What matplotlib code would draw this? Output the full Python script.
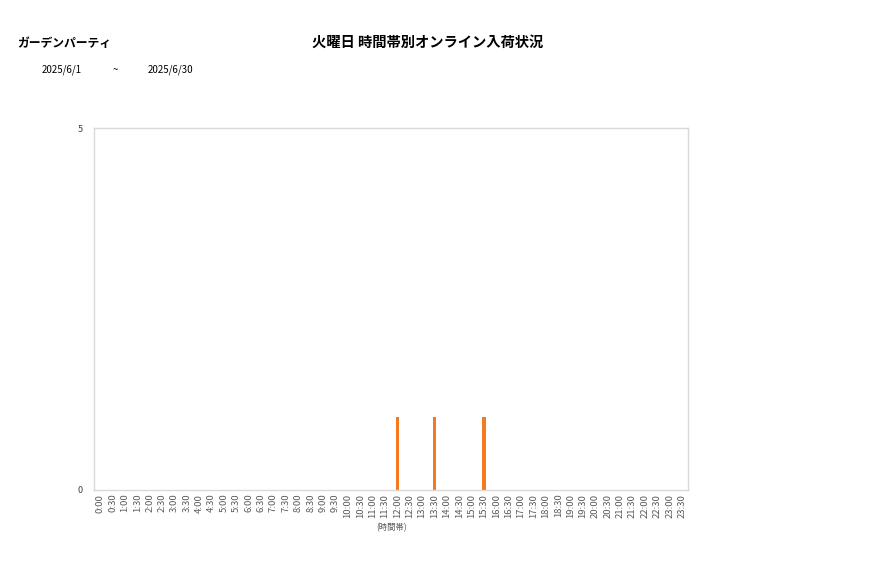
import matplotlib
matplotlib.use("Agg")
import matplotlib.pyplot as plt

plt.rcParams['font.family'] = ['Noto Sans CJK JP', 'DejaVu Sans']

# ---- data ----
time_slots = [f"{h}:{m:02d}" for h in range(24) for m in (0, 30)]
arrival_times = ["12:00", "13:30", "15:30"]
arrival_counts = [1, 1, 1]
values = [arrival_counts[arrival_times.index(t)] if t in arrival_times else 0 for t in time_slots]

store_name = "ガーデンパーティ"
chart_title = "火曜日 時間帯別オンライン入荷状況"
date_from = "2025/6/1"
date_to = "2025/6/30"
x_label = "(時間帯)"
y_ticks = [0, 5]

# ---- figure ----
fig = plt.figure(figsize=(8.77, 5.78), dpi=100)
ax = fig.add_axes([94/877, 1-489.5/578, (688.3-94)/877, (489.5-128)/578])

x = list(range(len(time_slots)))
ax.bar(x, values, width=0.25, color="#F47920")

ax.set_xlim(-0.5, len(time_slots)-0.5)
ax.set_ylim(0, 5)
ax.set_yticks(y_ticks)
ax.set_yticklabels([str(v) for v in y_ticks], fontsize=6.5, color="#404040")
ax.set_xticks(x)
ax.set_xticklabels(time_slots, rotation=90, fontsize=6.8, color="#595959")
ax.tick_params(axis='both', length=0, pad=3)
ax.tick_params(axis='y', pad=8)
for s in ax.spines.values():
    s.set_color("#d9d9d9")
    s.set_linewidth(1)

ax.set_xlabel(x_label, fontsize=6, color="#595959", labelpad=4)

fig.text(17/877, 1-43/578, store_name, fontsize=8.5, fontweight='bold', va='center', ha='left')
fig.text(428/877, 1-43/578, chart_title, fontsize=10.3, fontweight='bold', va='center', ha='center')
fig.text(42/877, 1-70/578, date_from, fontsize=7, va='center', ha='left')
fig.text(115/877, 1-70/578, "~", fontsize=7, va='center', ha='center')
fig.text(148/877, 1-70/578, date_to, fontsize=7, va='center', ha='left')

fig.savefig("out.png", dpi=100, facecolor="white")
